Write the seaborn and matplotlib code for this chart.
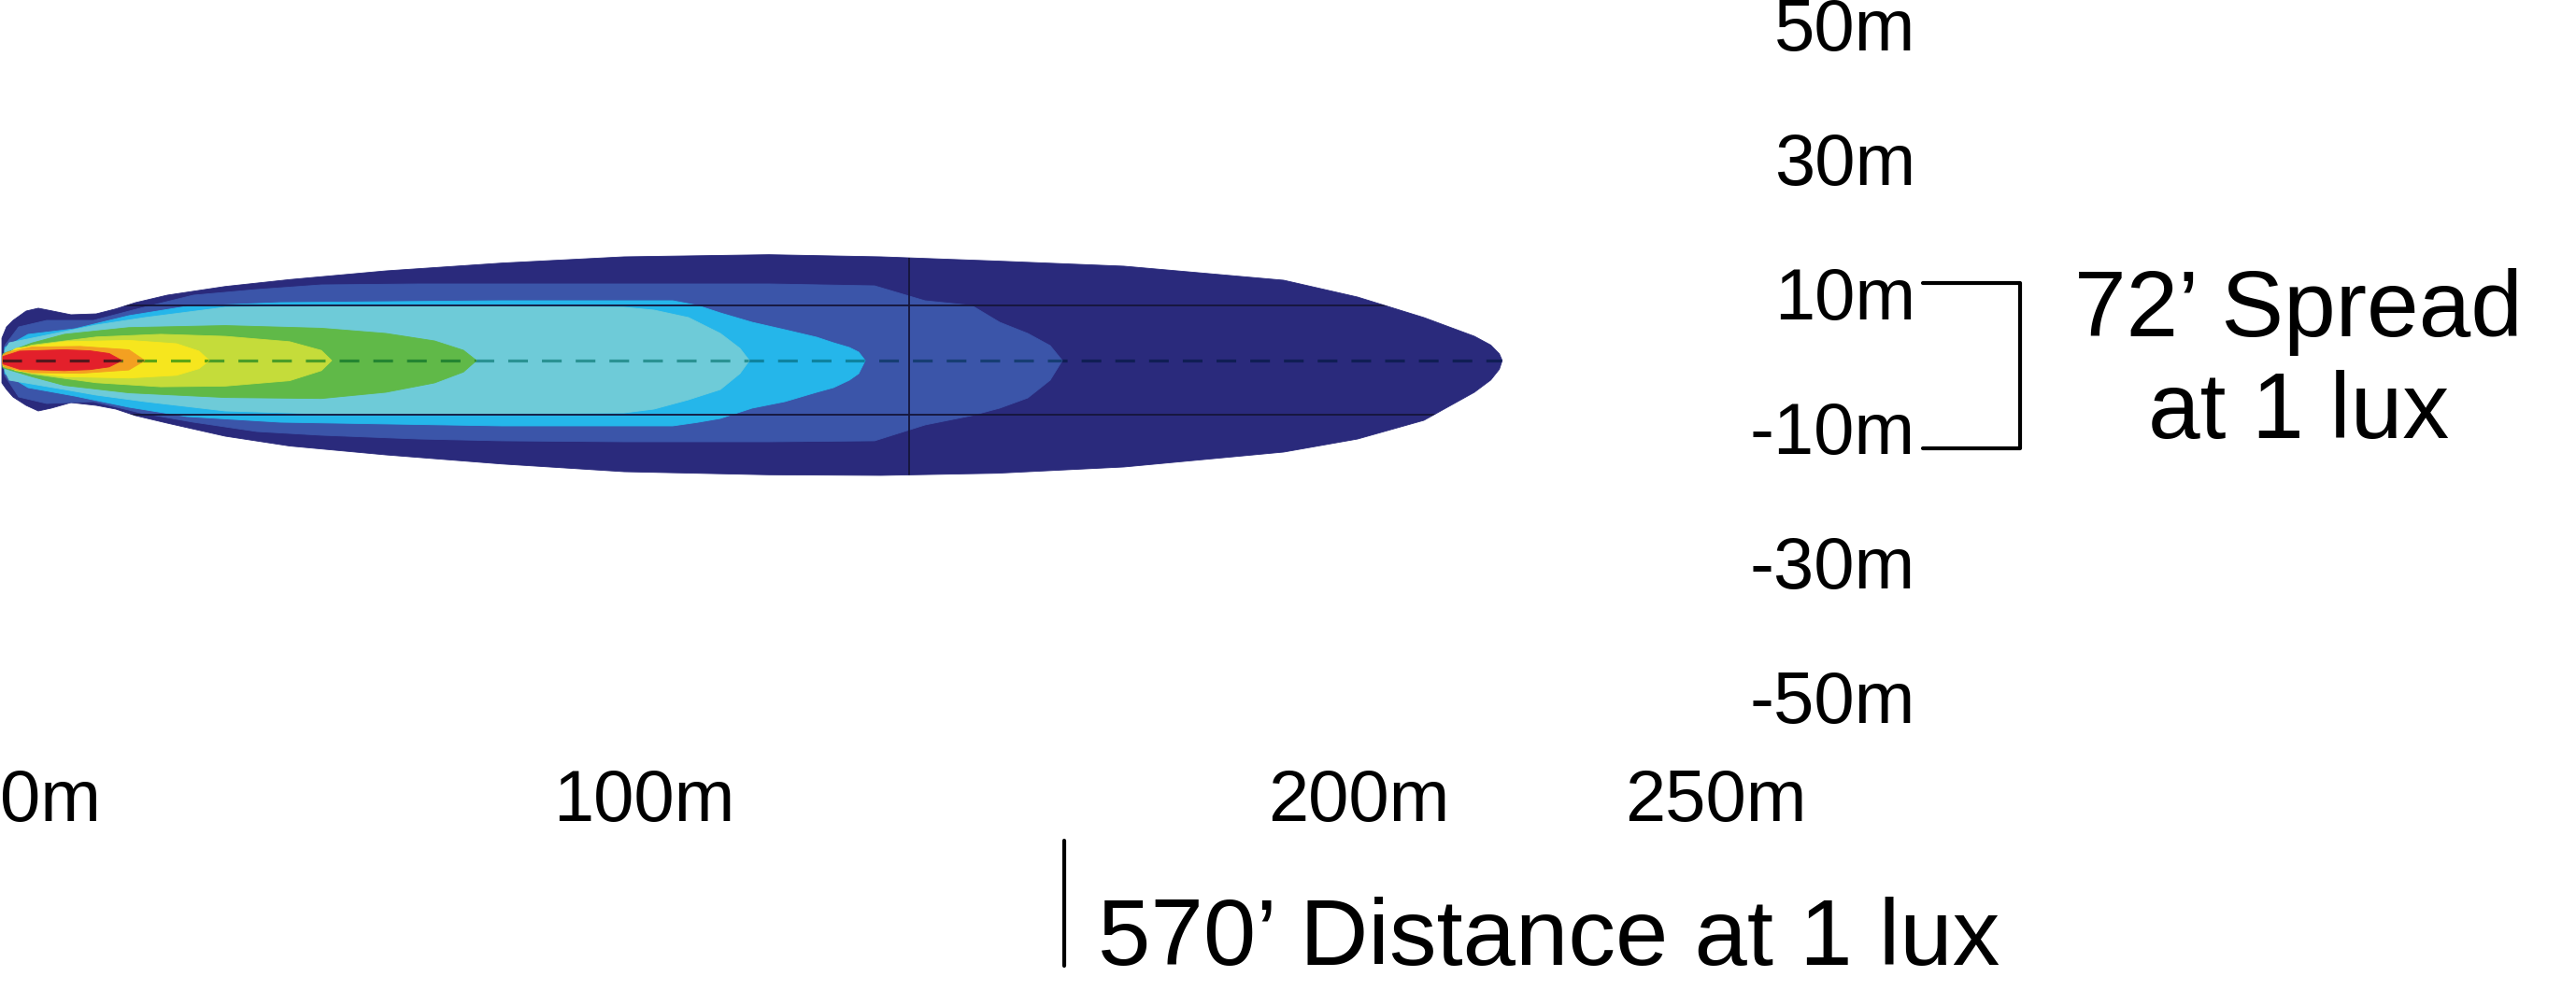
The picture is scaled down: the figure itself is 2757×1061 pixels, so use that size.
import numpy as np
import matplotlib
matplotlib.use("Agg")
import matplotlib.pyplot as plt
import seaborn as sns

# ---------------- data (metres) ----------------
# iso-lux regions, outermost first: x along the beam, upper / lower edge across it
navy_x = [10.20, 10.85, 11.76, 13.59, 15.29, 17.12, 19.87, 23.40, 26.14, 28.89, 33.33, 41.44, 50.46,
          63.92, 80.13, 97.25, 117.52, 133.20, 149.41, 167.19, 189.54, 199.87, 209.15, 216.21, 218.50,
          219.70, 220.10]
navy_up = [3.33, 5.00, 5.97, 7.36, 7.78, 7.40, 6.81, 6.94, 7.68, 8.61, 9.72, 11.01, 12.04,
           13.33, 14.49, 15.42, 15.74, 15.42, 14.79, 14.03, 11.94, 9.44, 6.39, 3.61, 2.30,
           1.00, 0.0]
navy_lo = [-3.33, -4.31, -5.42, -6.67, -7.50, -7.08, -6.25, -6.67, -7.22, -8.19, -9.31, -11.25, -12.71,
           -14.03, -15.38, -16.53, -16.99, -17.08, -16.76, -15.83, -13.61, -11.67, -8.89, -4.72, -2.90,
           -1.30, 0.0]

mid_x = [10.59, 12.55, 16.47, 23.01, 29.54, 36.99, 45.88, 54.90, 68.50, 80.13, 97.25, 117.52, 132.29,
         139.35, 145.88, 149.80, 153.73, 156.86, 158.56]
mid_up = [2.22, 5.00, 5.97, 5.97, 7.78, 9.72, 10.56, 11.25, 11.39, 11.39, 11.39, 11.39, 11.11,
          8.89, 8.19, 5.69, 4.03, 2.22, 0.0]
mid_lo = [-2.22, -5.42, -6.39, -6.11, -7.78, -9.17, -10.56, -11.11, -11.67, -11.94, -12.08, -12.08, -11.94,
          -9.58, -8.19, -7.08, -5.56, -2.92, 0.0]

sky_x = [10.59, 13.86, 20.39, 27.97, 36.08, 49.15, 80.13, 104.05, 107.50, 110.72, 115.16, 119.74,
         124.18, 126.54, 128.76, 130.07, 130.98]
sky_up = [1.94, 3.89, 4.72, 6.67, 8.06, 8.61, 8.89, 8.89, 8.20, 7.08, 5.69, 4.58, 3.47, 2.64, 1.94,
          1.25, 0.0]
sky_lo = [-1.94, -4.03, -5.28, -6.94, -8.33, -9.17, -9.72, -9.72, -9.20, -8.61, -7.08, -6.11, -4.72,
          -4.03, -2.92, -1.94, 0.0]

cyan_x = [10.59, 11.24, 18.95, 23.40, 30.20, 41.44, 54.90, 80.13, 97.25, 101.44, 106.27, 110.72, 113.46, 114.77]
cyan_up = [1.53, 2.64, 4.31, 5.28, 6.39, 7.92, 8.06, 8.06, 7.92, 7.50, 6.39, 4.03, 1.81, 0.0]
cyan_lo = [-1.53, -2.92, -4.31, -5.14, -6.11, -7.50, -7.92, -7.92, -7.78, -7.22, -5.83, -4.31, -1.94, 0.0]

green_x = [10.33, 14.38, 18.95, 27.97, 41.44, 54.90, 63.92, 70.72, 74.77, 76.60]
green_up = [1.00, 2.60, 3.90, 4.90, 5.20, 4.80, 4.03, 2.92, 1.53, 0.0]
green_lo = [-1.10, -2.40, -3.70, -4.80, -5.50, -5.65, -4.72, -3.33, -1.71, 0.0]

ygreen_x = [10.33, 14.38, 23.40, 32.42, 41.44, 50.46, 54.90, 56.34]
ygreen_up = [0.80, 2.30, 3.50, 3.90, 3.60, 2.80, 1.50, 0.0]
ygreen_lo = [-0.90, -2.00, -3.30, -3.90, -3.80, -3.00, -1.50, 0.0]

yellow_x = [10.33, 12.16, 18.95, 27.97, 34.64, 37.78, 39.22]
yellow_up = [0.60, 1.80, 2.80, 3.00, 2.50, 1.40, 0.0]
yellow_lo = [-0.60, -1.50, -2.40, -2.60, -2.20, -1.20, 0.0]

orange_x = [10.33, 10.85, 14.38, 21.18, 27.97, 30.20]
orange_up = [0.80, 1.20, 2.00, 2.10, 1.60, 0.0]
orange_lo = [-0.70, -1.10, -1.80, -1.90, -1.40, 0.0]

red_x = [10.33, 12.68, 18.95, 22.50, 25.20, 27.00]
red_up = [0.60, 1.40, 1.60, 1.45, 1.05, 0.0]
red_lo = [-0.50, -1.30, -1.50, -1.35, -0.95, 0.0]

layer_colors = ["#2a2a7c", "#3b55a9", "#25b6ea", "#6ecbd8", "#60b948",
                "#c5dc3a", "#f6e61e", "#f3a021", "#e3202b"]

# guide lines drawn over the beam
box_top, box_bottom = 8.19, -8.10
marker_x = 137.1

# axis labels
y_ticks = [50, 30, 10, -10, -30, -50]
y_tick_labels = ["50m", "30m", "10m", "-10m", "-30m", "-50m"]
x_ticks = [0, 100, 200, 250]
x_tick_labels = ["0m", "100m", "200m", "250m"]

# annotations
spread_text = ["72\u2019 Spread", "at 1 lux"]
spread_bracket_x = [278.95, 292.55, 292.55, 278.95]
spread_bracket_y = [11.53, 11.53, -13.06, -13.06]
distance_text = "570\u2019 Distance at 1 lux"
distance_marker_x = 158.8
distance_marker_y = [-71.4, -90.0]

# ---------------- drawing ----------------
sns.set_theme(style="white")
plt.rcParams["font.family"] = ["Liberation Sans", "DejaVu Sans"]
plt.rcParams["text.color"] = "black"
plt.rcParams["ytick.color"] = "black"
plt.rcParams["xtick.color"] = "black"

fig = plt.figure(figsize=(27.57, 10.61), dpi=100)
ax = fig.add_axes([0, 0, 1, 1])
ax.set_facecolor("white")
XLIM = (9.935, 370.33)
YLIM = (-93.75, 53.61)
ax.set_xlim(*XLIM)
ax.set_ylim(*YLIM)

palette = sns.color_palette(layer_colors)
layers = [
    (navy_x, navy_up, navy_lo),
    (mid_x, mid_up, mid_lo),
    (sky_x, sky_up, sky_lo),
    (cyan_x, cyan_up, cyan_lo),
    (green_x, green_up, green_lo),
    (ygreen_x, ygreen_up, ygreen_lo),
    (yellow_x, yellow_up, yellow_lo),
    (orange_x, orange_up, orange_lo),
    (red_x, red_up, red_lo),
]
dash_tint = np.array([0.38, 0.72, 0.68])
polys = []
for i, ((xs, up, lo), col) in enumerate(zip(layers, palette)):
    xs = np.asarray(xs, float)
    up = np.asarray(up, float)
    lo = np.asarray(lo, float)
    poly = ax.fill(np.r_[xs, xs[::-1]], np.r_[up, lo[::-1]], color=col, lw=0.6,
                   ec=col, zorder=2 + i)[0]
    polys.append(poly)
    dash_col = tuple(np.array(col) * dash_tint)
    dl, = ax.plot([navy_x[0], navy_x[-1]], [0, 0], color=dash_col, lw=2.3,
                  dashes=(6.6, 4.7), zorder=2.5 + i)
    dl.set_clip_path(poly)

outline = polys[0]
for yv in (box_top, box_bottom):
    hl = ax.axhline(yv, color="#15153a", lw=1.3, zorder=20)
    hl.set_clip_path(outline)
vl = ax.axvline(marker_x, color="#15153a", lw=1.3, zorder=20)
vl.set_clip_path(outline)

# y tick labels placed at the right of the beam
ax.set_yticks(y_ticks)
ax.set_yticklabels(y_tick_labels)
ax.spines["left"].set_position(("data", 277.9))
for s in ax.spines.values():
    s.set_visible(False)
ax.tick_params(axis="y", length=0, pad=0, labelcolor="black", labelsize=56)
ax.set_xticks([])
ax.grid(False)

# x labels under the beam
for t, lab in zip(x_ticks, x_tick_labels):
    xpos = max(t, XLIM[0])
    ha = "left" if t < XLIM[0] else "center"
    ax.text(xpos, -68.5, lab, ha=ha, va="baseline", fontsize=56, color="black")

# spread bracket and text
sns.lineplot(x=spread_bracket_x, y=spread_bracket_y, sort=False, estimator=None,
             color="black", lw=3.0, ax=ax)
ax.lines[-1].set_solid_joinstyle("round")
ax.lines[-1].set_solid_capstyle("round")
ax.text(331.5, 3.61, spread_text[0], ha="center", va="baseline", fontsize=72, color="black")
ax.text(331.5, -11.53, spread_text[1], ha="center", va="baseline", fontsize=72, color="black")

# distance marker and text
ax.plot([distance_marker_x, distance_marker_x], distance_marker_y, color="black", lw=3.0)
ax.text(163.5, -89.9, distance_text, ha="left", va="baseline", fontsize=73, color="black")

fig.savefig("out.png", dpi=100, facecolor="white")
